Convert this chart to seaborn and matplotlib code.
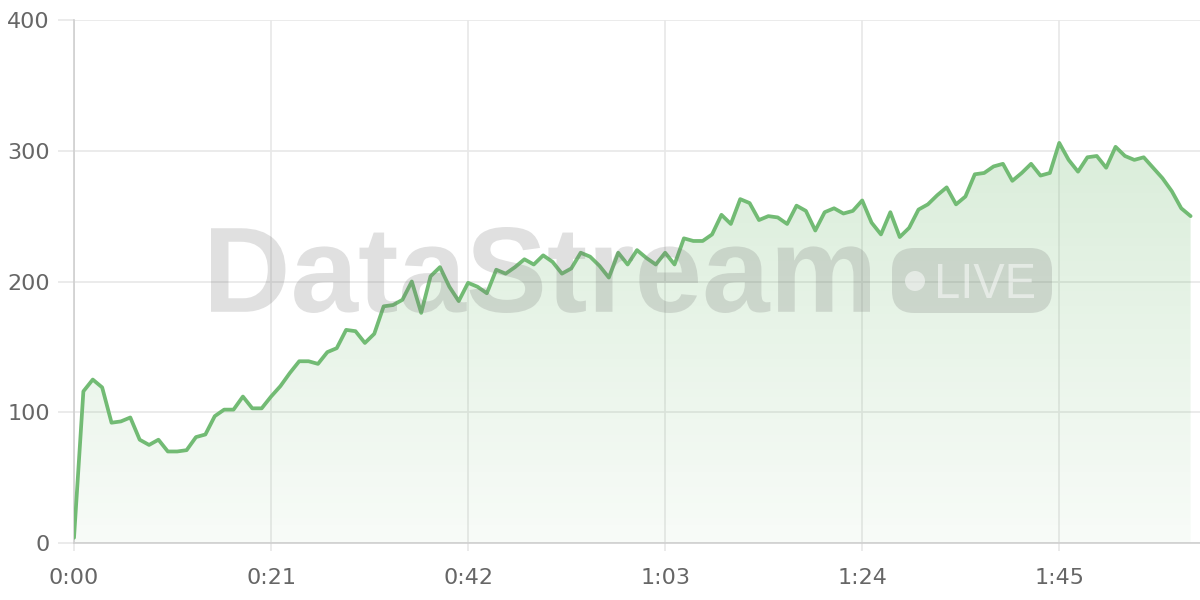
import numpy as np
import pandas as pd
import matplotlib
matplotlib.use("Agg")
import matplotlib.pyplot as plt
import seaborn as sns
from matplotlib.textpath import TextPath
from matplotlib.font_manager import FontProperties
from matplotlib.patches import PathPatch, FancyBboxPatch, Circle
from matplotlib.transforms import Affine2D, IdentityTransform
from matplotlib.colors import LinearSegmentedColormap

# ---------------- data ----------------
seconds = list(range(120))
values = [4, 116, 125, 119, 92, 93, 96, 79, 75, 79,
          70, 70, 71, 81, 83, 97, 102, 102, 112, 103,
          103, 112, 120, 130, 139, 139, 137, 146, 149, 163,
          162, 153, 160, 181, 182, 186, 200, 176, 204, 211,
          196, 185, 199, 196, 191, 209, 206, 211, 217, 213,
          220, 215, 206, 210, 222, 219, 212, 203, 222, 213,
          224, 218, 213, 222, 213, 233, 231, 231, 236, 251,
          244, 263, 260, 247, 250, 249, 244, 258, 254, 239,
          253, 256, 252, 254, 262, 245, 236, 253, 234, 241,
          255, 259, 266, 272, 259, 265, 282, 283, 288, 290,
          277, 283, 290, 281, 283, 306, 293, 284, 295, 296,
          287, 303, 296, 293, 295, 287, 279, 269, 256, 250]
x_tick_positions = [0, 21, 42, 63, 84, 105]
x_tick_labels = ["0:00", "0:21", "0:42", "1:03", "1:24", "1:45"]
y_ticks = [0, 100, 200, 300, 400]
watermark_text = "DataStream"
badge_text = "LIVE"

# ---------------- style ----------------
sns.set_theme(style="white")
plt.rcParams['font.family'] = ['DejaVu Sans']

W, H = 1200, 600
fig = plt.figure(figsize=(12, 6), dpi=100)
fig.patch.set_facecolor("white")
ax = fig.add_axes([74 / W, 57 / H, 1126 / W, 523 / H])

df = pd.DataFrame({"t": seconds, "v": values})

GREEN = "#72bb74"
GRID = "#e8e8e8"
LABEL = "#666666"

# gradient fill under the curve
poly = ax.fill_between(df["t"], df["v"], 0, facecolor="none", lw=0)
grad = np.linspace(0, 1, 256).reshape(-1, 1)
cmap = LinearSegmentedColormap.from_list(
    "g", [(0.435, 0.729, 0.435, 0.05), (0.435, 0.729, 0.435, 0.26)])
im = ax.imshow(grad, extent=[0, 120, 0, 310], origin="lower",
               aspect="auto", cmap=cmap, zorder=1, interpolation="bilinear")
im.set_clip_path(poly.get_paths()[0], transform=ax.transData)

sns.lineplot(data=df, x="t", y="v", color=GREEN, lw=2.7, ax=ax, zorder=3)

ax.set_xlim(0, 120)
ax.set_ylim(0, 400)
ax.set_xticks(x_tick_positions)
ax.set_xticklabels(x_tick_labels)
ax.set_yticks(y_ticks)
ax.set_xlabel("")
ax.set_ylabel("")
ax.grid(True, color=GRID, lw=1.2)
ax.set_axisbelow(True)
for s in ["top", "right"]:
    ax.spines[s].set_visible(False)
for s in ["left", "bottom"]:
    ax.spines[s].set_color("#cfcfcf")
    ax.spines[s].set_linewidth(1.2)
ax.tick_params(axis="y", length=11.5, width=1.2, color=GRID, pad=6,
               labelsize=16, labelcolor=LABEL, direction="out", left=True)
ax.tick_params(axis="x", length=6, width=1.2, color=GRID, pad=12,
               labelsize=16, labelcolor=LABEL, direction="out", bottom=True)

# ---------------- watermark ----------------
WM_COLOR = (0.45, 0.45, 0.45)
WM_ALPHA = 0.22


def place_text(s, x0, x1, ytop, ybot, color, alpha, z=10, weight="bold"):
    tp = TextPath((0, 0), s, size=100,
                  prop=FontProperties(family="Liberation Sans", weight=weight))
    ext = tp.get_extents()
    sx = (x1 - x0) / ext.width
    sy = (ybot - ytop) / ext.height
    tr = Affine2D().translate(-ext.x0, -ext.y0).scale(sx, sy).translate(x0, H - ybot)
    p = PathPatch(tp, transform=tr, facecolor=color, edgecolor="none",
                  alpha=alpha, zorder=z)
    fig.add_artist(p)


place_text(watermark_text, 211, 870, 227, 313, WM_COLOR, WM_ALPHA)

badge = FancyBboxPatch((892, H - 313), 1052 - 892, 65,
                       boxstyle="round,pad=0,rounding_size=22",
                       transform=IdentityTransform(),
                       facecolor=WM_COLOR, edgecolor="none", alpha=WM_ALPHA, zorder=10)
fig.add_artist(badge)
dot = Circle((915, H - 281), 10, transform=IdentityTransform(),
             facecolor="white", edgecolor="none", alpha=0.5, zorder=11)
fig.add_artist(dot)
place_text(badge_text, 938, 1034, 264, 298, "white", 0.5, z=11, weight="normal")

fig.savefig("out.png", dpi=100, facecolor="white")
